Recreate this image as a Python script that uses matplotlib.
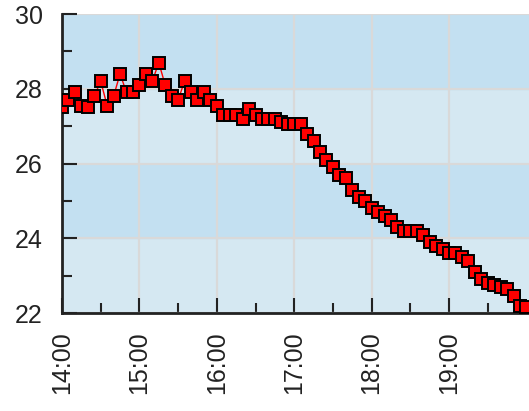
import matplotlib
matplotlib.use("Agg")
from matplotlib import pyplot as plt
import matplotlib.dates as mdates
import pandas as pd

# temperature readings every 5 minutes, 14:00 - 20:00
start = "2014-07-01 14:00"
temps = [27.5, 27.7, 27.9, 27.55, 27.5, 27.8, 28.2, 27.55, 27.8, 28.4,
         27.9, 27.9, 28.1, 28.4, 28.2, 28.7, 28.1, 27.8, 27.7,
         28.2, 27.9, 27.7, 27.9, 27.7, 27.55, 27.3, 27.3, 27.3, 27.2,
         27.45, 27.3, 27.2, 27.2, 27.2, 27.1, 27.05, 27.05,
         27.05, 26.8, 26.6,
         26.3, 26.1, 25.9, 25.7, 25.6, 25.3, 25.1, 25.0, 24.8, 24.7,
         24.6, 24.5, 24.3, 24.2, 24.2, 24.2, 24.1, 23.9, 23.8, 23.7,
         23.6, 23.6, 23.5, 23.4, 23.1, 22.9, 22.8, 22.75, 22.7, 22.65,
         22.45, 22.2, 22.15]
times = pd.date_range(start, periods=len(temps), freq="5min")
hour_ticks = pd.date_range(start, periods=6, freq="60min")
half_ticks = pd.date_range("2014-07-01 14:30", periods=6, freq="60min")
yticks = [22, 24, 26, 28, 30]

plt.rcParams['font.family'] = ['Liberation Sans', 'DejaVu Sans']

fig = plt.figure(figsize=(5.29, 4.11), dpi=100)
ax = fig.add_axes([62 / 529, 1 - 313 / 411, 1 - 62 / 529, 299 / 411])

# alternating background bands
ax.set_facecolor('#d5e8f2')
ax.axhspan(24, 26, color='#c3e0f1', zorder=0)
ax.axhspan(28, 30, color='#c3e0f1', zorder=0)

ax.plot(times, temps, color='red', lw=1, marker='s', ms=8,
        mfc='red', mec='black', mew=1.4, zorder=3, clip_on=True)

t0 = pd.Timestamp(start)
ax.set_xlim(t0, t0 + pd.Timedelta(minutes=362))
ax.set_ylim(22, 30)
ax.set_yticks(yticks)
ax.set_yticks([23, 25, 27, 29], minor=True)
ax.set_xticks(hour_ticks)
ax.set_xticks(half_ticks, minor=True)
ax.xaxis.set_major_formatter(mdates.DateFormatter('%H:%M'))

ax.grid(True, which='major', color='#d9d9d9', lw=1.6, zorder=1)
ax.set_axisbelow(True)

for s in ['top', 'right']:
    ax.spines[s].set_visible(False)
for s in ['left', 'bottom']:
    ax.spines[s].set_linewidth(2)
    ax.spines[s].set_color('#222222')

ax.tick_params(which='major', direction='in', length=10.5, width=1.5,
               labelsize=18, colors='#222222')
ax.tick_params(which='minor', direction='in', length=7, width=1.5,
               colors='#222222')
ax.tick_params(axis='y', which='major', pad=14)
ax.tick_params(axis='x', which='major', pad=13)
plt.setp(ax.get_xticklabels(), rotation=90)

fig.savefig('out.png', dpi=100)
